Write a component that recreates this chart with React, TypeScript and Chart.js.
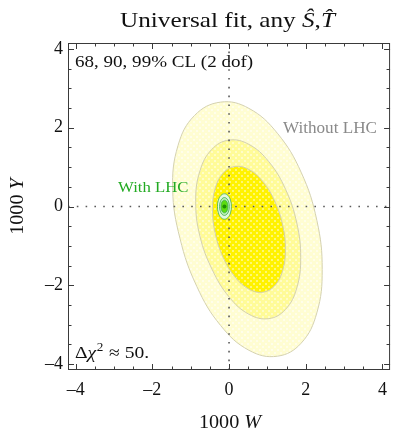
import React, { useEffect, useRef } from 'react';
import { Chart, registerables } from 'chart.js';

Chart.register(...registerables);

// ---- axes ----
const X_RANGE = [-4.2, 4.2];
const Y_RANGE = [-4.15, 4.15];
const MAJOR_TICKS = [-4, -2, 0, 2, 4];
const MINOR_TICKS = [-4, -3.5, -3, -2.5, -2, -1.5, -1, -0.5, 0, 0.5, 1, 1.5, 2, 2.5, 3, 3.5, 4];

// ---- "Without LHC" contours (68, 90, 99% CL) ----
const NOLHC_68 = [
  [1.47, -1.085], [1.398, -0.466], [1.192, 0.136], [0.884, 0.63], [0.52, 0.938], [0.156, 1.016],
  [-0.152, 0.85], [-0.358, 0.468], [-0.43, -0.075], [-0.358, -0.694], [-0.152, -1.296], [0.156, -1.79],
  [0.52, -2.098], [0.884, -2.176], [1.192, -2.01], [1.398, -1.628],
];
const NOLHC_90 = [
  [1.869, -1.297], [1.767, -0.418], [1.474, 0.437], [1.037, 1.138], [0.52, 1.576], [0.003, 1.686],
  [-0.45, 1.45], [-0.76, 0.9], [-0.87, 0.13], [-0.76, -0.75], [-0.44, -1.6], [0.003, -2.298],
  [0.52, -2.736], [1.037, -2.846], [1.474, -2.611], [1.767, -2.068],
];
const NOLHC_99 = [
  [2.43, -1.6], [2.29, -0.35], [1.88, 0.87], [1.26, 1.86], [0.52, 2.49], [-0.22, 2.65],
  [-0.9, 2.31], [-1.33, 1.55], [-1.47, 0.44], [-1.28, -0.81], [-0.84, -2.03], [-0.22, -3.02],
  [0.52, -3.65], [1.26, -3.8], [1.88, -3.47], [2.29, -2.7],
];

// ---- "With LHC" contours (68, 90, 99% CL) ----
const LHC_68 = [
  [-0.03, 0], [-0.042, 0.08], [-0.075, 0.139], [-0.12, 0.16], [-0.165, 0.139], [-0.198, 0.08],
  [-0.21, 0], [-0.198, -0.08], [-0.165, -0.139], [-0.12, -0.16], [-0.075, -0.139], [-0.042, -0.08],
];
const LHC_90 = [
  [0.008, 0], [-0.009, 0.114], [-0.056, 0.197], [-0.12, 0.227], [-0.184, 0.197], [-0.231, 0.114],
  [-0.248, 0], [-0.231, -0.114], [-0.184, -0.197], [-0.12, -0.227], [-0.056, -0.197], [-0.009, -0.114],
];
const LHC_99 = [
  [0.062, 0], [0.038, 0.162], [-0.029, 0.281], [-0.12, 0.323], [-0.211, 0.281], [-0.278, 0.162],
  [-0.302, 0], [-0.278, -0.162], [-0.211, -0.281], [-0.12, -0.323], [-0.029, -0.281], [0.038, -0.162],
];
const LHC_BEST = [[-0.12, 0.0]];

// ---- texts ----
const TITLE_PARTS = [['Universal fit, any ', false], ['Ŝ', true], [',', false], ['T̂', true]];
const CL_LABEL = '68, 90, 99% CL (2 dof)';
const WITHOUT_LABEL = 'Without LHC';
const WITH_LABEL = 'With LHC';
const CHI_VALUE = '≈ 50.';
const X_TITLE = ['1000 ', 'W'];
const Y_TITLE = ['1000 ', 'Y'];

const SERIF = '"Liberation Serif", "DejaVu Serif", serif';

function closedLoop(pts: number[][]) {
  const n = pts.length;
  const seq = [pts[n - 1], ...pts, pts[0], pts[1]];
  return seq.map(([x, y]) => ({ x, y }));
}

function contour(pts: number[][], fill: any, border: string, width = 1) {
  const n = pts.length;
  return {
    data: closedLoop(pts),
    showLine: true,
    tension: 0.4,
    fill: 'shape',
    backgroundColor: fill,
    borderColor: border,
    borderWidth: width,
    pointRadius: 0,
    segment: {
      borderColor: (c: any) => (c.p0DataIndex === 0 || c.p0DataIndex === n + 1 ? 'rgba(0,0,0,0)' : border),
    },
  };
}

function dotted(a: number[], b: number[]) {
  return {
    data: [{ x: a[0], y: a[1] }, { x: b[0], y: b[1] }],
    showLine: true,
    fill: false,
    borderColor: '#5a5a5a',
    borderWidth: 1.6,
    borderDash: [1.6, 7.2],
    pointRadius: 0,
  };
}

function makePattern(base: string, dot: string) {
  const c = document.createElement('canvas');
  c.width = 6;
  c.height = 6;
  const g = c.getContext('2d') as CanvasRenderingContext2D;
  g.fillStyle = base;
  g.fillRect(0, 0, 6, 6);
  g.fillStyle = dot;
  g.fillRect(1, 1, 2, 2);
  g.fillRect(4, 4, 2, 2);
  const p = g.createPattern(c, 'repeat');
  return p || base;
}

function drawParts(ctx: CanvasRenderingContext2D, parts: [string, string][], x: number, y: number, align: 'left' | 'center', hs = 1) {
  let total = 0;
  for (const [t, f] of parts) {
    ctx.font = f;
    total += ctx.measureText(t).width;
  }
  ctx.save();
  ctx.translate(align === 'center' ? x - (total * hs) / 2 : x, y);
  ctx.scale(hs, 1);
  ctx.textAlign = 'left';
  let cx = 0;
  for (const [t, f] of parts) {
    ctx.font = f;
    ctx.fillText(t, cx, 0);
    cx += ctx.measureText(t).width;
  }
  ctx.restore();
}

const framePlugin = {
  id: 'framePlugin',
  afterDraw(chart: any) {
    const { ctx, chartArea: a, scales } = chart;
    const xs = scales.x;
    const ys = scales.y;
    ctx.save();
    ctx.strokeStyle = '#3a3a3a';
    ctx.lineWidth = 1;
    ctx.strokeRect(a.left + 0.5, a.top + 0.5, a.right - a.left - 1, a.bottom - a.top - 1);
    ctx.beginPath();
    for (const v of MINOR_TICKS) {
      const len = MAJOR_TICKS.includes(v) ? 6 : 3.5;
      const px = Math.round(xs.getPixelForValue(v)) + 0.5;
      ctx.moveTo(px, a.bottom);
      ctx.lineTo(px, a.bottom - len);
      ctx.moveTo(px, a.top);
      ctx.lineTo(px, a.top + len);
      const py = Math.round(ys.getPixelForValue(v)) + 0.5;
      ctx.moveTo(a.left, py);
      ctx.lineTo(a.left + len, py);
      ctx.moveTo(a.right, py);
      ctx.lineTo(a.right - len, py);
    }
    ctx.stroke();

    ctx.textBaseline = 'alphabetic';
    ctx.fillStyle = '#111';
    // title
    const tf = `21px ${SERIF}`;
    const tfi = `italic 21px ${SERIF}`;
    drawParts(ctx, TITLE_PARTS.map(([t, it]) => [t as string, it ? tfi : tf]), 227.5, 27, 'center', 1.2);

    // CL label
    drawParts(ctx, [[CL_LABEL, `17px ${SERIF}`]], 75, 67, 'left', 1.12);

    // Without LHC
    ctx.fillStyle = '#8a8a8a';
    drawParts(ctx, [[WITHOUT_LABEL, `16px ${SERIF}`]], 283, 133, 'left', 1.07);

    // With LHC
    ctx.fillStyle = '#22aa22';
    drawParts(ctx, [[WITH_LABEL, `15.5px ${SERIF}`]], 118, 191.5, 'left', 1.08);

    // delta chi^2
    ctx.fillStyle = '#111';
    ctx.save();
    ctx.translate(75, 358);
    ctx.scale(1.15, 1);
    ctx.font = `17px ${SERIF}`;
    ctx.textAlign = 'left';
    ctx.fillText('Δ', 0, 0);
    let cx = ctx.measureText('Δ').width;
    ctx.font = `italic 17px ${SERIF}`;
    ctx.fillText('χ', cx, 0);
    cx += ctx.measureText('χ').width + 0.5;
    ctx.font = `11.5px ${SERIF}`;
    ctx.fillText('2', cx, -7);
    cx += ctx.measureText('2').width + 5;
    ctx.font = `17px ${SERIF}`;
    ctx.fillText(CHI_VALUE, cx, 0);
    ctx.restore();

    // axis titles
    const af = `18px ${SERIF}`;
    const afi = `italic 18px ${SERIF}`;
    drawParts(ctx, [[X_TITLE[0], af], [X_TITLE[1], afi]], 230, 428, 'center', 1.12);
    ctx.save();
    ctx.translate(23, (a.top + a.bottom) / 2);
    ctx.rotate(-Math.PI / 2);
    drawParts(ctx, [[Y_TITLE[0], af], [Y_TITLE[1], afi]], 0, 0, 'center', 1.12);
    ctx.restore();
    ctx.restore();
  },
};

const fmt = (v: number) => (v < 0 ? '–' + Math.abs(v) : String(v));

export default function App() {
  const ref = useRef<HTMLCanvasElement>(null);
  useEffect(() => {
    document.body.style.margin = '0';
    const yellowEdge = '#d4d1b0';
    const greenEdge = '#3fae4f';
    const chart = new Chart(ref.current as HTMLCanvasElement, {
      type: 'scatter',
      data: {
        datasets: [
          { data: LHC_BEST.map(([x, y]) => ({ x, y })), pointRadius: 2, pointBackgroundColor: '#1f8f00', pointBorderWidth: 0, showLine: false },
          contour(LHC_68, '#5cdc10', greenEdge, 0.8),
          contour(LHC_90, '#b9eeb4', greenEdge, 0.8),
          contour(LHC_99, '#e3f7de', greenEdge, 0.8),
          dotted([0, Y_RANGE[0]], [0, Y_RANGE[1]]),
          dotted([X_RANGE[0], 0], [X_RANGE[1], 0]),
          contour(NOLHC_68, makePattern('#fff200', '#fff870'), yellowEdge),
          contour(NOLHC_90, makePattern('#fffb98', '#fffdc8'), yellowEdge),
          contour(NOLHC_99, makePattern('#fffdd2', '#fffeea'), yellowEdge),
        ] as any,
      },
      options: {
        responsive: false,
        animation: false,
        devicePixelRatio: 1,
        layout: { padding: { top: 43, right: 1, left: 0, bottom: 0 } },
        plugins: { legend: { display: false }, tooltip: { enabled: false }, title: { display: false } },
        scales: {
          x: {
            type: 'linear',
            min: X_RANGE[0],
            max: X_RANGE[1],
            grid: { display: false, drawTicks: false },
            border: { display: false },
            ticks: { color: '#111', padding: 9, font: { family: SERIF, size: 18 }, callback: (v: any) => fmt(Number(v)) },
            afterBuildTicks: (s: any) => { s.ticks = MAJOR_TICKS.map((v) => ({ value: v })); },
            afterFit: (s: any) => { s.height = 62; },
          },
          y: {
            type: 'linear',
            min: Y_RANGE[0],
            max: Y_RANGE[1],
            grid: { display: false, drawTicks: false },
            border: { display: false },
            ticks: { color: '#111', padding: 5, font: { family: SERIF, size: 18 }, callback: (v: any) => fmt(Number(v)) },
            afterBuildTicks: (s: any) => { s.ticks = MAJOR_TICKS.map((v) => ({ value: v })); },
            afterFit: (s: any) => { s.width = 68; },
          },
        },
      } as any,
      plugins: [framePlugin],
    });
    return () => chart.destroy();
  }, []);
  return (
    <div style={{ width: 396, height: 432 }}>
      <canvas ref={ref} width={396} height={432} style={{ display: 'block', width: 396, height: 432 }} />
    </div>
  );
}
